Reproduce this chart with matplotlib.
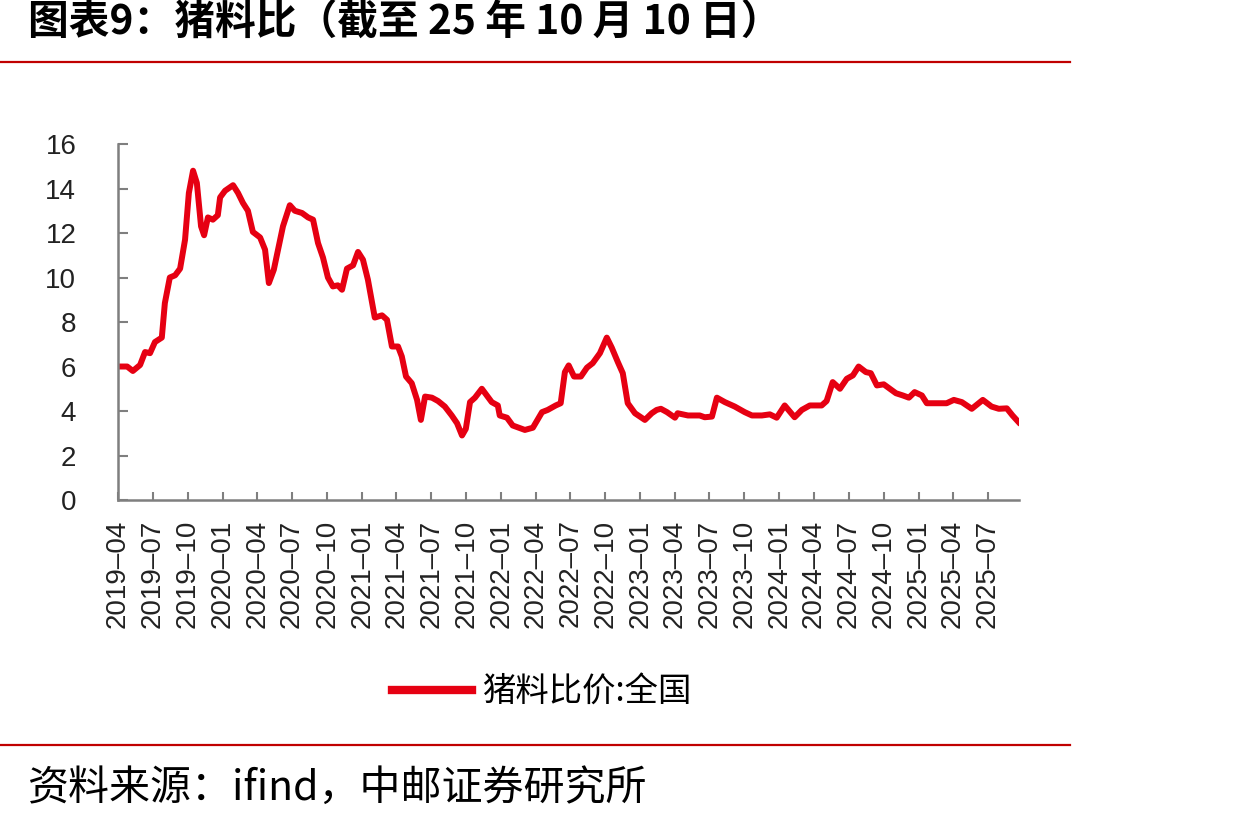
import pandas as pd
import matplotlib.pyplot as plt
from matplotlib.lines import Line2D

plt.rcParams['font.family'] = ['Liberation Sans', 'Noto Sans CJK SC', 'DejaVu Sans']

# pig-to-grain (feed) price ratio, national
dates = [
    '2019-04-05', '2019-04-25', '2019-05-10', '2019-05-29', '2019-06-11', '2019-06-24',
    '2019-07-07', '2019-07-25', '2019-08-02', '2019-08-15', '2019-08-29', '2019-09-11',
    '2019-09-24', '2019-10-04', '2019-10-15', '2019-10-25', '2019-11-05', '2019-11-13',
    '2019-11-23', '2019-12-06', '2019-12-19', '2019-12-25', '2020-01-07', '2020-01-28',
    '2020-02-10', '2020-02-23', '2020-03-07', '2020-03-20', '2020-04-08', '2020-04-21',
    '2020-05-01', '2020-05-14', '2020-05-25', '2020-06-07', '2020-06-25', '2020-07-08',
    '2020-07-27', '2020-08-12', '2020-08-25', '2020-09-07', '2020-09-20', '2020-10-03',
    '2020-10-16', '2020-10-29', '2020-11-09', '2020-11-22', '2020-12-08', '2020-12-21',
    '2021-01-03', '2021-01-16', '2021-02-03', '2021-02-22', '2021-03-07', '2021-03-20',
    '2021-04-05', '2021-04-15', '2021-04-26', '2021-05-11', '2021-05-25', '2021-06-04',
    '2021-06-15', '2021-07-03', '2021-07-19', '2021-08-06', '2021-08-24', '2021-09-07',
    '2021-09-20', '2021-09-30', '2021-10-11', '2021-10-24', '2021-11-11', '2021-11-24',
    '2021-12-07', '2021-12-23', '2021-12-28', '2022-01-16', '2022-01-31', '2022-03-04',
    '2022-03-25', '2022-04-18', '2022-05-03', '2022-05-24', '2022-06-06', '2022-06-17',
    '2022-06-27', '2022-07-11', '2022-07-29', '2022-08-14', '2022-08-29', '2022-09-17',
    '2022-10-05', '2022-10-18', '2022-11-03', '2022-11-16', '2022-11-29', '2022-12-18',
    '2023-01-13', '2023-01-31', '2023-02-13', '2023-02-24', '2023-03-12', '2023-04-02',
    '2023-04-09', '2023-05-06', '2023-06-06', '2023-06-19', '2023-07-08', '2023-07-21',
    '2023-08-11', '2023-09-06', '2023-10-02', '2023-10-21', '2023-11-16', '2023-12-07',
    '2023-12-25', '2024-01-15', '2024-02-10', '2024-02-29', '2024-03-21', '2024-04-21',
    '2024-05-04', '2024-05-20', '2024-06-08', '2024-06-26', '2024-07-12', '2024-07-27',
    '2024-08-15', '2024-08-28', '2024-09-13', '2024-10-01', '2024-10-17', '2024-11-02',
    '2024-11-20', '2024-12-06', '2024-12-21', '2025-01-09', '2025-01-22', '2025-03-15',
    '2025-04-03', '2025-04-24', '2025-05-20', '2025-06-18', '2025-07-11', '2025-07-30',
    '2025-08-20', '2025-09-04', '2025-09-20',
]
ratio = [
    6.0, 6.0, 5.8, 6.07, 6.65, 6.6,
    7.1, 7.3, 8.85, 10.0, 10.1, 10.4,
    11.7, 13.8, 14.8, 14.25, 12.3, 11.9,
    12.7, 12.6, 12.8, 13.6, 13.9, 14.15,
    13.8, 13.35, 13.0, 12.05, 11.8, 11.25,
    9.75, 10.35, 11.25, 12.3, 13.25, 13.0,
    12.9, 12.7, 12.6, 11.55, 10.9, 10.0,
    9.6, 9.65, 9.45, 10.4, 10.55, 11.15,
    10.8, 9.9, 8.2, 8.3, 8.1, 6.9,
    6.9, 6.45, 5.55, 5.25, 4.5, 3.6,
    4.65, 4.6, 4.45, 4.2, 3.8, 3.45,
    2.9, 3.2, 4.4, 4.6, 5.0, 4.7,
    4.4, 4.25, 3.8, 3.7, 3.35, 3.15,
    3.25, 3.95, 4.05, 4.25, 4.35, 5.75,
    6.05, 5.55, 5.55, 5.95, 6.15, 6.6,
    7.3, 6.85, 6.2, 5.7, 4.35, 3.9,
    3.6, 3.9, 4.05, 4.1, 3.95, 3.7,
    3.9, 3.8, 3.8, 3.72, 3.75, 4.6,
    4.4, 4.2, 3.95, 3.8, 3.8, 3.85,
    3.7, 4.25, 3.72, 4.05, 4.25, 4.25,
    4.45, 5.3, 5.0, 5.45, 5.6, 6.0,
    5.75, 5.7, 5.15, 5.2, 5.0, 4.8,
    4.7, 4.6, 4.85, 4.7, 4.35, 4.35,
    4.5, 4.4, 4.1, 4.5, 4.2, 4.1,
    4.12, 3.8, 3.5,
]
tick_labels = [
    '2019-04', '2019-07', '2019-10', '2020-01', '2020-04', '2020-07', '2020-10',
    '2021-01', '2021-04', '2021-07', '2021-10', '2022-01', '2022-04', '2022-07',
    '2022-10', '2023-01', '2023-04', '2023-07', '2023-10', '2024-01', '2024-04',
    '2024-07', '2024-10', '2025-01', '2025-04', '2025-07',
]

x = pd.to_datetime(dates)
ticks = pd.to_datetime([t + '-01' for t in tick_labels])

fig = plt.figure(figsize=(12.5, 8.22), dpi=100)
ax = fig.add_axes([0.0944, 0.3917, 0.7208, 0.4331])

ax.plot(x, ratio, color='#E60012', linewidth=4.3, solid_joinstyle='round',
        label='猪料比价:全国')

ax.set_ylim(0, 16)
ax.set_yticks(range(0, 17, 2))
ax.set_xlim(pd.Timestamp('2019-04-01'), pd.Timestamp('2025-09-21'))
ax.set_xticks(ticks)
ax.set_xticklabels([t.replace('-', '\u2013') for t in tick_labels], rotation=90)

gray = '#7f7f7f'
for side in ['top', 'right']:
    ax.spines[side].set_visible(False)
for side in ['left', 'bottom']:
    ax.spines[side].set_color(gray)
    ax.spines[side].set_linewidth(1.8)
ax.tick_params(axis='y', direction='in', length=7, width=1.5, color=gray,
               labelsize=20, pad=30, labelcolor='#222222')
ax.tick_params(axis='x', direction='in', length=6, width=1.5, color=gray,
               labelsize=20, pad=14, labelcolor='#222222')
ax.grid(False)

leg = ax.legend(loc='center', bbox_to_anchor=(0.433, 0.158),
                bbox_transform=fig.transFigure, frameon=False,
                handlelength=2.4, handletextpad=0.3,
                prop={'family': ['Noto Sans CJK SC'], 'size': 24})
leg.get_lines()[0].set_linewidth(6)

# header / footer
fig.text(0.022, 0.972, '图表9：猪料比（截至 25 年 10 月 10 日）', ha='left', va='center',
         fontsize=29.3, fontweight='bold', family=['Noto Sans CJK SC'])
fig.add_artist(Line2D([0, 0.856], [0.9246, 0.9246], color='#C00000', linewidth=1.6))
fig.add_artist(Line2D([0, 0.856], [0.0937, 0.0937], color='#C00000', linewidth=1.6))
fig.text(0.022, 0.041, '资料来源：ifind，中邮证券研究所', ha='left', va='center',
         fontsize=29.5, fontweight='light', family=['Noto Sans CJK SC'])

fig.savefig('out.png', dpi=100)
